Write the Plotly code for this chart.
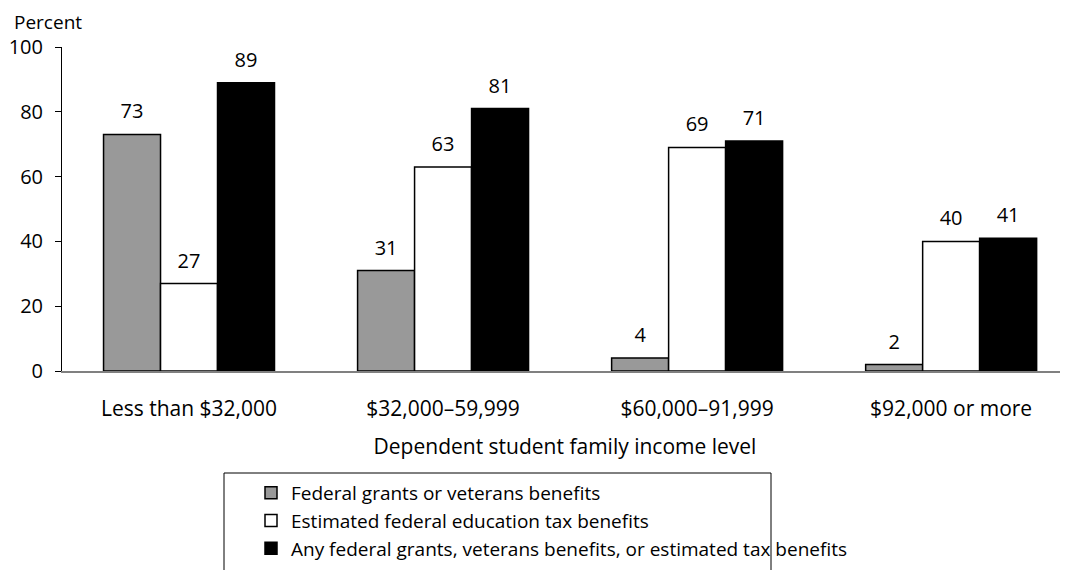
import plotly.graph_objects as go

categories = ["Less than $32,000", "$32,000\u201359,999", "$60,000\u201391,999", "$92,000 or more"]
grants = [73, 31, 4, 2]
tax = [27, 63, 69, 40]
any_aid = [89, 81, 71, 41]
series_names = [
    "Federal grants or veterans benefits",
    "Estimated federal education tax benefits",
    "Any federal grants, veterans benefits, or estimated tax benefits",
]
colors = ["#999999", "#ffffff", "#000000"]

FONT = "Open Sans"
GAP = 0.327
fig = go.Figure()
for i, (name, vals, col) in enumerate(zip(series_names, [grants, tax, any_aid], colors)):
    fig.add_trace(go.Bar(
        x=categories, y=vals, name=name,
        marker=dict(color=col, line=dict(color="black", width=1.5)),
        offsetgroup=str(i),
    ))
for i, vals in enumerate([grants, tax, any_aid]):
    fig.add_trace(go.Scatter(
        x=categories, y=vals, mode="markers+text", orientation="v",
        text=[str(v) for v in vals], textposition="top center",
        textfont=dict(size=20, color="black", family=FONT),
        marker=dict(size=16, opacity=0), offsetgroup=str(i),
        showlegend=False, hoverinfo="skip", cliponaxis=False,
    ))

PW = 1006.0
PH = 324.0
fig.update_layout(
    width=1060, height=562,
    margin=dict(l=54, r=0, t=39, b=199, autoexpand=False),
    paper_bgcolor="white", plot_bgcolor="white",
    barmode="group", bargap=GAP, bargroupgap=0,
    scattermode="group", scattergap=GAP,
    font=dict(family=FONT, size=21, color="black"),
    showlegend=True,
    legend=dict(
        x=(251 - 62) / PW, y=1 - (474 - 47) / PH, xanchor="left", yanchor="top",
        bgcolor="rgba(0,0,0,0)", borderwidth=0,
        font=dict(size=19, family=FONT), traceorder="normal",
        itemwidth=30, tracegroupgap=0,
    ),
    xaxis=dict(
        range=[-0.5, 3.46],
        showline=True, linecolor="#808080", linewidth=1.5,
        ticks="", tickfont=dict(size=21), ticklabelstandoff=18,
        title=dict(text="Dependent student family income level", font=dict(size=21), standoff=18),
    ),
    yaxis=dict(
        range=[0, 100], tickvals=[0, 20, 40, 60, 80, 100],
        showline=True, linecolor="black", linewidth=1,
        ticks="outside", ticklen=6, tickcolor="black", ticklabelstandoff=8,
        showgrid=False, zeroline=False, tickfont=dict(size=20),
    ),
    shapes=[dict(type="rect", xref="paper", yref="paper",
                 x0=(224 - 62) / PW, x1=(771 - 62) / PW,
                 y0=1 - (473 - 47) / PH, y1=1 - (640 - 47) / PH,
                 line=dict(color="black", width=1))],
    annotations=[dict(text="Percent", xref="paper", yref="paper",
                      x=(13 - 62) / PW, y=1 + 39 / PH, xanchor="left", yanchor="top",
                      showarrow=False, font=dict(size=19), borderpad=0)],
)
fig.write_html("out.html")
